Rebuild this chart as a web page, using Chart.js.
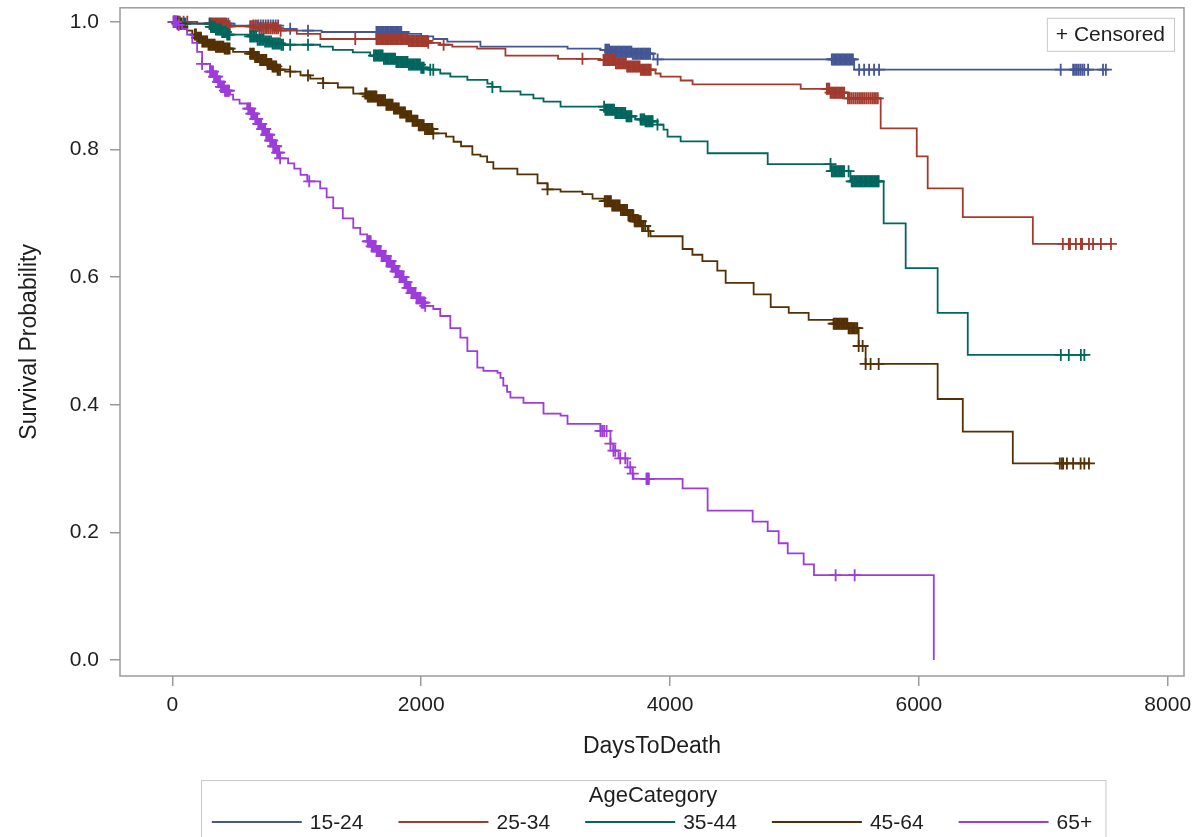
<!DOCTYPE html>
<html><head><meta charset="utf-8">
<script src="https://cdn.jsdelivr.net/npm/chart.js@4.4.1/dist/chart.umd.min.js"></script>
<style>html,body{margin:0;padding:0;background:#fff;overflow:hidden}#wrap{width:1198px;height:837px}</style>
</head><body><div id="wrap"><canvas id="c" width="1198" height="837"></canvas></div>
<script>
// ---------------- data ----------------
const ageCategories = ['15-24', '25-34', '35-44', '45-64', '65+'];

const time_15_24 = [0,60,500,866,1000,1200,1900,2000,2097,2210,2476,3176,3441,3520,3700,3867,5480];
const surv_15_24 = [1,.997,.994,.989,.986,.984,.981,.977,.973,.969,.961,.958,.956,.953,.95,.941,.925];
const cens_15_24 = [10,20,30,45,60,75,90,105,300,315,330,345,360,375,390,405,420,435,450,650,670,690,710,730,750,770,790,810,830,850,947,1090,
  1640,1650,1660,1670,1680,1690,1700,1710,1720,1730,1740,1750,1760,1770,1780,1790,1800,1810,1820,1830,1840,
  3480,3490,3500,3510,3520,3530,3540,3550,3560,3570,3580,3590,3600,3610,3620,3630,3640,3650,3660,3670,3680,3690,3700,3710,3720,3730,3740,3750,3760,3770,3780,3790,3800,3810,3820,3830,3840,3900,
  5300,5310,5320,5330,5340,5350,5360,5370,5380,5390,5400,5410,5420,5430,5440,5450,5460,5470,5520,5560,5600,5640,5680,
  7140,7240,7255,7270,7285,7300,7315,7330,7360,7480,7503];

const time_25_34 = [0,200,440,700,866,1000,1190,1900,2057,2153,2250,2450,2677,3100,3441,3560,3650,3760,3883,3924,4085,4181,5050,5290,5430,5693,5983,6071,6353,6916];
const surv_25_34 = [1,.997,.993,.99,.986,.981,.973,.97,.967,.964,.961,.958,.947,.942,.94,.935,.93,.925,.919,.914,.908,.902,.895,.889,.88,.833,.789,.739,.694,.652];
const cens_25_34 = [15,30,45,60,90,120,300,310,320,330,340,350,360,370,380,390,400,410,420,430,440,450,460,625,640,655,670,685,700,715,730,745,760,775,790,805,820,835,850,870,1470,
  1640,1650,1660,1670,1680,1690,1700,1710,1720,1730,1740,1750,1760,1770,1780,1790,1800,1810,1820,1830,1840,1850,1860,1870,1880,1890,1900,1910,1920,1930,1940,1950,1960,1970,1980,1990,2000,2010,2020,2030,2040,2050,2057,2180,3296,
  3465,3475,3485,3495,3505,3515,3525,3535,3545,3555,3565,3575,3585,3595,3605,3615,3625,3635,3645,3655,3665,3675,3685,3695,3705,3715,3725,3735,3745,3755,3765,3775,3785,3795,3805,3815,3825,3835,3845,
  5260,5270,5280,5290,5300,5310,5320,5330,5340,5350,5360,5370,5380,5390,5400,5430,5445,5460,5475,5490,5505,5520,5535,5550,5565,5580,5595,5610,5625,5640,5655,5670,
  7157,7205,7215,7262,7302,7312,7367,7400,7463,7544];

const time_35_44 = [0,60,303,350,400,440,625,680,740,800,866,1188,1290,1450,1590,1700,1800,1900,2000,2060,2153,2234,2371,2532,2572,2637,2798,2902,2983,3120,3480,3560,3650,3720,3800,3899,3948,3980,4085,4302,4785,5291,5450,5717,5894,6151,6393];
const surv_35_44 = [1,.997,.992,.988,.984,.98,.977,.972,.969,.966,.964,.961,.956,.952,.947,.942,.937,.933,.928,.925,.919,.914,.909,.903,.898,.891,.886,.88,.875,.867,.862,.857,.852,.847,.844,.839,.831,.82,.8125,.794,.777,.766,.75,.684,.614,.544,.478];
const cens_35_44 = [15,40,70,100,300,310,320,330,340,350,360,370,380,390,400,410,420,430,440,450,460,625,637,649,661,673,685,697,709,721,733,745,757,769,781,793,805,817,829,841,853,865,877,890,947,1090,
  1620,1630,1640,1650,1660,1670,1680,1690,1700,1710,1720,1730,1740,1750,1760,1770,1780,1790,1800,1810,1820,1830,1840,1850,1860,1870,1880,1890,1900,1910,1920,1930,1940,1950,1960,1970,1980,1990,2000,2010,2020,2073,2097,2572,
  3470,3480,3490,3500,3510,3520,3530,3540,3550,3560,3570,3580,3590,3600,3610,3620,3630,3640,3650,3660,3670,3680,3690,3763,3773,3783,3793,3803,3813,3823,3833,3843,3853,3860,3899,
  5290,5300,5310,5320,5330,5340,5350,5360,5370,5380,5390,5400,5435,5460,5470,5480,5490,5500,5510,5520,5530,5540,5550,5560,5570,5580,5590,5600,5610,5620,5630,5640,5650,5660,5670,5677,
  7141,7205,7302,7330];

const time_45_64 = [0,40,80,120,160,200,240,290,350,420,488,625,660,700,760,800,842,947,1030,1108,1212,1330,1454,1566,1650,1720,1780,1830,1880,1930,1980,2030,2097,2200,2260,2320,2411,2476,2530,2580,2773,2935,3015,3120,3296,3377,3470,3530,3600,3660,3706,3770,3820,3843,4101,4180,4260,4380,4447,4672,4809,4954,5114,5315,5430,5516,5572,6151,6353,6755];
const surv_45_64 = [1,.997,.992,.986,.98,.975,.969,.964,.961,.958,.953,.95,.945,.94,.934,.93,.925,.922,.916,.911,.904,.897,.8875,.883,.877,.87,.864,.858,.852,.845,.838,.832,.825,.82,.812,.805,.792,.789,.78,.77,.761,.747,.7375,.734,.73,.723,.719,.712,.705,.697,.6875,.68,.672,.664,.644,.635,.625,.61,.591,.573,.553,.544,.533,.527,.52,.492,.464,.409,.358,.308];
const cens_45_64 = [15,40,70,180,190,200,210,220,230,240,250,260,270,280,290,300,310,320,330,340,350,360,370,380,390,400,410,420,430,440,450,460,
  625,635,645,655,665,675,685,695,705,715,725,735,745,755,765,775,785,795,805,815,825,835,845,855,866,947,1090,1212,
  1550,1560,1570,1580,1590,1600,1610,1620,1630,1640,1650,1660,1670,1680,1690,1700,1710,1720,1730,1740,1750,1760,1770,1780,1790,1800,1810,1820,1830,1840,1850,1860,1870,1880,1890,1900,1910,1920,1930,1940,1950,1960,1970,1980,1990,2000,2010,2020,2030,2040,2050,2060,2070,2080,2090,2097,3015,
  3475,3485,3495,3505,3515,3525,3535,3545,3555,3565,3575,3585,3595,3605,3615,3625,3635,3645,3655,3665,3675,3685,3695,3705,3715,3725,3735,3745,3755,3765,3775,3785,3800,3827,
  5315,5325,5335,5345,5355,5365,5375,5385,5395,5405,5415,5425,5435,5445,5455,5465,5475,5485,5495,5505,5516,5548,5572,5612,5677,
  7133,7150,7160,7190,7240,7300,7330,7367];

const time_65 = [0,40,78,118,160,199,239,303,330,360,390,420,465,488,540,601,630,660,690,720,750,780,810,840,866,930,980,1030,1084,1188,1240,1293,1370,1454,1510,1566,1600,1640,1680,1720,1760,1790,1820,1860,1890,1920,1960,2000,2032,2097,2153,2234,2315,2371,2451,2500,2613,2637,2660,2690,2717,2822,2983,3120,3176,3441,3521,3545,3586,3658,3698,3706,4101,4302,4664,4785,4873,4946,5074,5157,6120];
const surv_65 = [1,.995,.989,.98,.967,.953,.934,.922,.914,.906,.898,.892,.886,.878,.872,.864,.856,.848,.84,.832,.823,.814,.805,.795,.786,.778,.77,.76,.75,.739,.725,.708,.692,.677,.667,.656,.648,.641,.633,.625,.617,.609,.6,.592,.583,.575,.567,.56,.555,.55,.539,.52,.505,.484,.458,.453,.45,.442,.43,.42,.411,.403,.386,.383,.37,.359,.339,.328,.316,.302,.292,.284,.269,.234,.217,.202,.183,.167,.15,.133,0];
const cens_65 = [10,20,30,50,239,303,311,319,327,335,343,351,359,367,375,383,391,399,407,415,423,431,439,447,455,
  610,618,626,634,642,650,658,666,674,682,690,698,706,714,722,730,738,746,754,762,770,778,786,794,802,810,818,826,834,842,850,858,866,1100,
  1570,1578,1586,1594,1602,1610,1618,1626,1634,1642,1650,1658,1666,1674,1682,1690,1698,1706,1714,1722,1730,1738,1746,1754,1762,1770,1778,1786,1794,1802,1810,1818,1826,1834,1842,1850,1858,1866,1874,1882,1890,1898,1906,1914,1922,1930,1938,1946,1954,1962,1970,1978,1986,1994,2002,2010,2018,2026,2032,
  3441,3455,3470,3490,3521,3545,3560,3600,3640,3680,3700,3810,3815,3820,3825,3830,5331,5484];

const xTickValues = [0, 2000, 4000, 6000, 8000];
const xTickLabels = ['0', '2000', '4000', '6000', '8000'];
const yTickValues = [0, 0.2, 0.4, 0.6, 0.8, 1.0];
const yTickLabels = ['0.0', '0.2', '0.4', '0.6', '0.8', '1.0'];

// ---------------- styles ----------------
const seriesColors = ['#445694', '#A23A2E', '#01665E', '#543005', '#9D3CDB'];
const FONT = "'Liberation Sans', Arial, Helvetica, sans-serif";
const TEXT = '#1e1e1e';
const AXISGRAY = '#9b9b9b';

const groups = [
  { label: ageCategories[0], times: time_15_24, surv: surv_15_24, cens: cens_15_24 },
  { label: ageCategories[1], times: time_25_34, surv: surv_25_34, cens: cens_25_34 },
  { label: ageCategories[2], times: time_35_44, surv: surv_35_44, cens: cens_35_44 },
  { label: ageCategories[3], times: time_45_64, surv: surv_45_64, cens: cens_45_64 },
  { label: ageCategories[4], times: time_65, surv: surv_65, cens: cens_65 }
];

function survAt(times, surv, t) {
  let v = surv[0];
  for (let i = 0; i < times.length; i++) { if (times[i] <= t) v = surv[i]; else break; }
  return v;
}

const datasets = [];
groups.forEach((g, i) => {
  const lastT = g.times[g.times.length - 1];
  const end = Math.max(lastT, g.cens[g.cens.length - 1]);
  const pts = g.times.map((t, k) => ({ x: t, y: g.surv[k] }));
  if (end > lastT) pts.push({ x: end, y: g.surv[g.surv.length - 1] });
  datasets.push({
    label: g.label, role: 'curve', data: pts, borderColor: seriesColors[i], backgroundColor: seriesColors[i],
    borderWidth: 1.8, stepped: true, pointRadius: 0, fill: false, order: 100 - i * 10
  });
  datasets.push({
    label: g.label + ' censored', role: 'censor',
    data: g.cens.map(t => ({ x: t, y: survAt(g.times, g.surv, t) })),
    showLine: false, pointStyle: 'cross', pointRadius: 6, pointBorderWidth: 1.8,
    borderColor: seriesColors[i], pointBorderColor: seriesColors[i], backgroundColor: seriesColors[i],
    order: 99 - i * 10
  });
});

const framePlugin = {
  id: 'frame',
  beforeDatasetsDraw(chart) {
    const { ctx, chartArea: a } = chart;
    ctx.save();
    ctx.strokeStyle = AXISGRAY; ctx.lineWidth = 1.5;
    ctx.strokeRect(a.left, a.top, a.right - a.left, a.bottom - a.top);
    ctx.restore();
  }
};

const insetPlugin = {
  id: 'censoredInset',
  afterDraw(chart) {
    const { ctx, chartArea: a } = chart;
    ctx.save();
    ctx.font = '21px ' + FONT;
    const txt = '+ Censored';
    const w = ctx.measureText(txt).width + 18;
    const h = 33;
    const x = a.right - 10 - w, y = a.top + 10;
    ctx.fillStyle = '#fff'; ctx.fillRect(x, y, w, h);
    ctx.strokeStyle = '#c8c8c8'; ctx.lineWidth = 1;
    ctx.strokeRect(x + 0.5, y + 0.5, w, h);
    ctx.fillStyle = TEXT; ctx.textBaseline = 'middle'; ctx.textAlign = 'left';
    ctx.fillText(txt, x + 9, y + h / 2 + 1);
    ctx.restore();
  }
};

const legendPlugin = {
  id: 'ageLegend',
  afterDraw(chart) {
    const { ctx, chartArea: a } = chart;
    const curves = chart.data.datasets.filter(d => d.role === 'curve');
    ctx.save();
    ctx.font = '21px ' + FONT;
    const lineLen = 90, gap1 = 8, gap2 = 35;
    const widths = curves.map(d => ctx.measureText(d.label).width);
    let total = 0;
    widths.forEach((w, i) => { total += lineLen + gap1 + w + (i < widths.length - 1 ? gap2 : 0); });
    const cx = (a.left + a.right) / 2;
    const left = cx - total / 2;
    const boxL = left - 11, boxR = left + total + 13;
    const boxTop = chart.scales.x.bottom + 14;
    ctx.strokeStyle = '#c8c8c8'; ctx.lineWidth = 1;
    ctx.strokeRect(Math.round(boxL) + 0.5, boxTop + 0.5, boxR - boxL, 80);
    ctx.fillStyle = TEXT; ctx.textBaseline = 'middle';
    ctx.textAlign = 'center';
    ctx.font = '22px ' + FONT;
    ctx.fillText('AgeCategory', (boxL + boxR) / 2, boxTop + 16);
    ctx.font = '21px ' + FONT;
    ctx.textAlign = 'left';
    let x = left;
    const rowY = boxTop + 42;
    curves.forEach((d, i) => {
      ctx.strokeStyle = d.borderColor; ctx.lineWidth = 1.8;
      ctx.beginPath(); ctx.moveTo(x, rowY); ctx.lineTo(x + lineLen, rowY); ctx.stroke();
      x += lineLen + gap1;
      ctx.fillStyle = TEXT;
      ctx.fillText(d.label, x, rowY + 1);
      x += widths[i] + gap2;
    });
    ctx.restore();
  }
};

function zeroPad(s) { s.paddingTop = 0; s.paddingBottom = 0; s.paddingLeft = 0; s.paddingRight = 0; }

new Chart(document.getElementById('c').getContext('2d'), {
  type: 'line',
  data: { datasets },
  options: {
    responsive: false, animation: false, devicePixelRatio: 1,
    layout: { padding: { top: 6, right: 14, left: 0, bottom: 71 } },
    plugins: { legend: { display: false }, tooltip: { enabled: false } },
    scales: {
      x: {
        type: 'linear', min: -421, max: 8131,
        afterBuildTicks: s => { s.ticks = xTickValues.map(v => ({ value: v })); },
        afterFit: s => { s.height = 90; zeroPad(s); },
        ticks: { autoSkip: false, maxRotation: 0, padding: 7, color: TEXT, font: { family: FONT, size: 21 },
                 callback: (v, i) => xTickLabels[i] },
        grid: { display: true, drawOnChartArea: false, drawTicks: true, tickLength: 10, color: AXISGRAY, lineWidth: 1.5 },
        border: { display: false },
        title: { display: true, text: 'DaysToDeath', color: TEXT, font: { family: FONT, size: 23 }, padding: { top: 0, bottom: 6 } }
      },
      y: {
        type: 'linear', min: -0.025, max: 1.0219,
        afterBuildTicks: s => { s.ticks = yTickValues.map(v => ({ value: v })); },
        afterFit: s => { s.width = 120; zeroPad(s); },
        ticks: { autoSkip: false, padding: 11, color: TEXT, font: { family: FONT, size: 21 },
                 callback: (v, i) => yTickLabels[i] },
        grid: { display: true, drawOnChartArea: false, drawTicks: true, tickLength: 10, color: AXISGRAY, lineWidth: 1.5 },
        border: { display: false },
        title: { display: true, text: 'Survival Probability', color: TEXT, font: { family: FONT, size: 23 }, padding: { top: 16, bottom: 0 } }
      }
    }
  },
  plugins: [framePlugin, insetPlugin, legendPlugin]
});
</script>
</body></html>
